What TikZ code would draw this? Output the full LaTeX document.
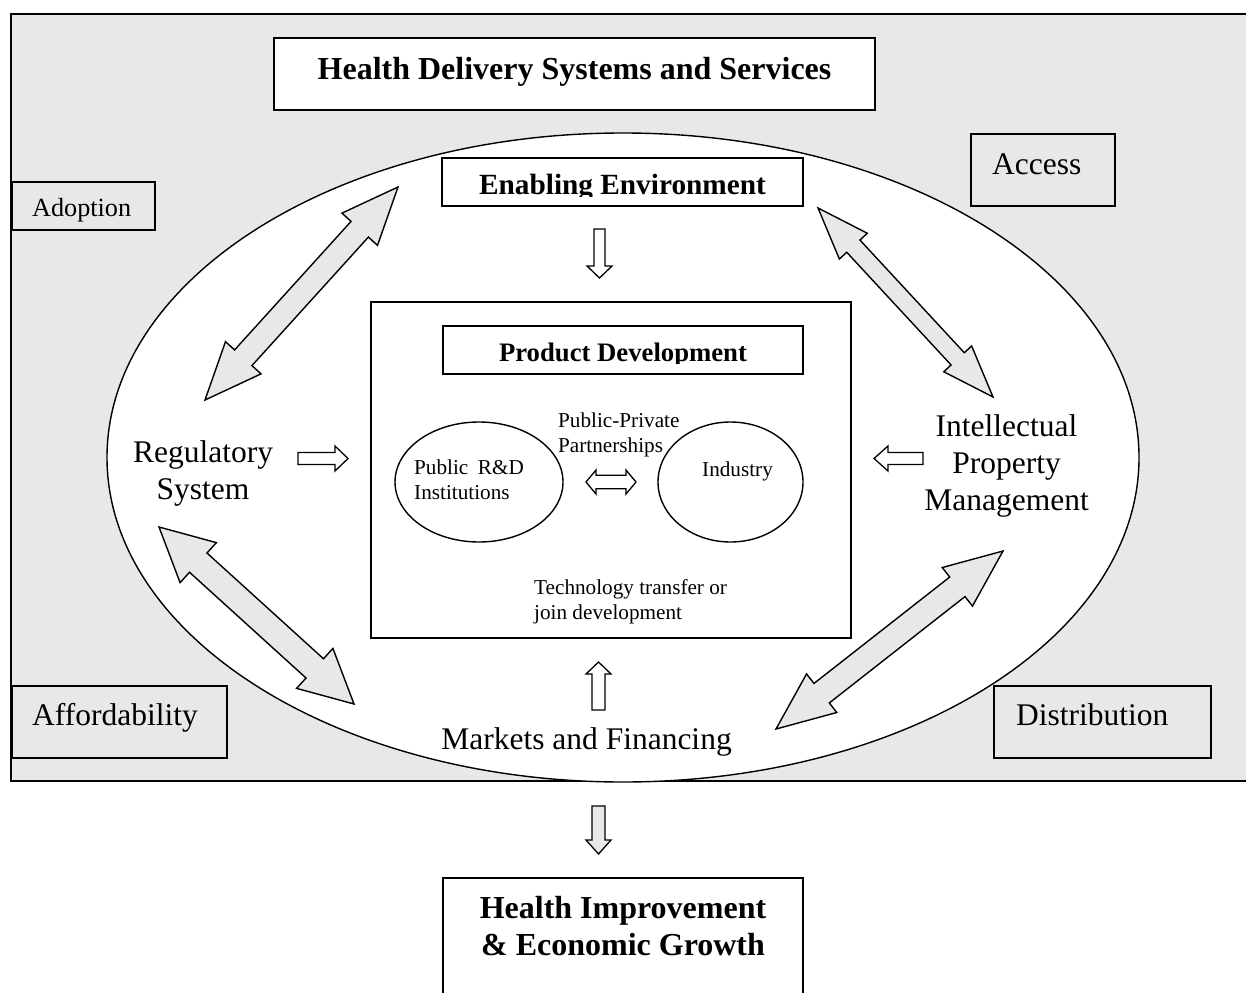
\documentclass[tikz,border=0pt]{standalone}
\usepackage{fontspec}
\setmainfont{Liberation Serif}
\usetikzlibrary{calc}
\definecolor{panelgray}{RGB}{232,232,232}

\tikzset{
  frame/.style={draw=black, line width=2pt},
  label box/.style={frame, fill=panelgray, inner sep=0pt},
  title box/.style={frame, fill=white, inner sep=0pt},
  ring/.style={draw=black, line width=1.4pt, fill=white},
  bigarrow/.style={draw=black, line width=1.4pt, fill=panelgray, line join=miter},
  hollowarrow/.style={draw=black, line width=1.3pt, fill=white, line join=miter},
  grayarrow/.style={draw=black, line width=1.3pt, fill=panelgray, line join=miter},
  bigtext/.style={font=\fontsize{31.5}{37}\selectfont, inner sep=0pt, align=center},
  tagtext/.style={font=\fontsize{31.5}{37}\selectfont, inner sep=0pt},
  smalltext/.style={font=\fontsize{21.2}{24.6}\selectfont, inner sep=0pt, align=left},
}

% angle and length of the segment between two named coordinates
\newcommand\arrowframe[2]{%
  \path let \p1=($(#2)-(#1)$) in
    \pgfextra{\pgfmathsetmacro\arang{atan2(\y1,\x1)}%
              \pgfmathsetmacro\arlen{veclen(\x1,\y1)}%
              \global\let\arang\arang\global\let\arlen\arlen};%
}
% block arrow with heads at both ends:
% style, from, to, shaft half-width, head half-width, head length
\newcommand\twowayarrow[6]{%
  \arrowframe{#2}{#3}%
  \begin{scope}[shift={(#2)}, rotate=\arang]
    \draw[#1] (0,0) -- (#6,#5) -- (#6,#4) -- (\arlen-#6,#4) -- (\arlen-#6,#5)
      -- (\arlen,0) -- (\arlen-#6,-#5) -- (\arlen-#6,-#4) -- (#6,-#4) -- (#6,-#5) -- cycle;
  \end{scope}%
}
% block arrow with one head at the "to" end
\newcommand\onewayarrow[6]{%
  \arrowframe{#2}{#3}%
  \begin{scope}[shift={(#2)}, rotate=\arang]
    \draw[#1] (0,#4) -- (\arlen-#6,#4) -- (\arlen-#6,#5) -- (\arlen,0)
      -- (\arlen-#6,-#5) -- (\arlen-#6,-#4) -- (0,-#4) -- cycle;
  \end{scope}%
}

\begin{document}
\begin{tikzpicture}[x=1pt, y=-1pt]
  \useasboundingbox (0,0) rectangle (1246,992);

  % grey panel of the delivery system
  \draw[frame, fill=panelgray] (11,14) rectangle (1280,781);

  % outer ring
  \node (ring) at (623,457.5) {};
  \draw[ring] (ring.center) ellipse [x radius=516, y radius=324.5];

  % title of the panel
  \node[title box, minimum width=601pt, minimum height=72pt] (hds) at (574.5,74) {};
  \node[font=\bfseries\fontsize{32}{37}\selectfont, inner sep=0pt, anchor=base] (hdstext) at (574.5,80)
    {Health Delivery Systems and Services};

  % corner tags
  \node[label box, minimum width=143pt, minimum height=48pt] (adopt) at (83.5,206) {};
  \node[font=\fontsize{26.2}{30}\selectfont, inner sep=0pt, anchor=base west] (adopttext) at (32,217) {Adoption};
  \node[label box, minimum width=144pt, minimum height=72pt] (access) at (1043,170) {};
  \node[tagtext, anchor=base west] (accesstext) at (992,175) {Access};
  \node[label box, minimum width=215pt, minimum height=72pt] (afford) at (119.5,722) {};
  \node[tagtext, anchor=base west] (affordtext) at (32,725) {Affordability};
  \node[label box, minimum width=217pt, minimum height=72pt] (distr) at (1102.5,722) {};
  \node[tagtext, anchor=base west] (distrtext) at (1016,725) {Distribution};

  % enabling environment
  \node[title box, minimum width=361pt, minimum height=48pt] (enable) at (622.5,182) {};
  \begin{scope}
    \clip (442,158) rectangle (803,196.5);
    \node[font=\bfseries\fontsize{29.3}{34}\selectfont, inner sep=0pt, anchor=base] (enabletext) at (622.5,195)
      {Enabling Environment};
  \end{scope}

  % product development block
  \node[title box, minimum width=480pt, minimum height=336pt] (pd) at (611,470) {};
  \node[title box, minimum width=360pt, minimum height=48pt] (pdtitle) at (623,350) {};
  \begin{scope}
    \clip (443,326) rectangle (803,363);
    \node[font=\bfseries\fontsize{26.7}{31}\selectfont, inner sep=0pt, anchor=base] (pdtitletext) at (623,361.7)
      {Product Development};
  \end{scope}
  \node (rdc) at (479,482) {};
  \draw[ring] (rdc.center) ellipse [x radius=84, y radius=60];
  \node (indc) at (730.5,482) {};
  \draw[ring] (indc.center) ellipse [x radius=72.5, y radius=60];
  % multi-line labels are anchored at the baseline of their last line
  \node[smalltext, anchor=base west] (rd) at (414,499) {Public\hspace{0.45em}R\&D\\Institutions};
  \node[smalltext, anchor=base west] (ppp) at (558,452) {Public-Private\\Partnerships};
  \node[smalltext, anchor=base west] (ind) at (702,476) {Industry};
  \node[smalltext, anchor=base west] (tt) at (534,619) {Technology transfer or\\join development};

  % surrounding factors
  \node[bigtext, anchor=base] (reg) at (203,499) {Regulatory\\System};
  \node[bigtext, anchor=base] (ipm) at (1006.5,510) {Intellectual\\Property\\Management};
  \node[tagtext, anchor=base] (mkt) at (586.5,749) {Markets and Financing};

  % outcome
  \node[title box, minimum width=360pt, minimum height=132pt] (outcome) at (623,944) {};
  \node[font=\bfseries\fontsize{32}{37}\selectfont, inner sep=0pt, align=center, anchor=base] (outtext) at (623,955)
    {Health Improvement\\\& Economic Growth};

  % end points of the block arrows
  \coordinate (a1s) at (205,400);   \coordinate (a1e) at (398,187);
  \coordinate (a2s) at (818,208);   \coordinate (a2e) at (993,397);
  \coordinate (a3s) at (159,527);   \coordinate (a3e) at (354,704);
  \coordinate (a4s) at (776,729);   \coordinate (a4e) at (1003,551);
  \coordinate (enS) at (599.5,229); \coordinate (enE) at (599.5,278);
  \coordinate (rgS) at (298,458.5); \coordinate (rgE) at (348,458.5);
  \coordinate (ipS) at (923,458.5); \coordinate (ipE) at (874,458.5);
  \coordinate (mkS) at (598.5,710); \coordinate (mkE) at (598.5,662);
  \coordinate (ppS) at (586,482);   \coordinate (ppE) at (636,482);
  \coordinate (otS) at (598.5,806); \coordinate (otE) at (598.5,854);

  \twowayarrow{bigarrow}{a1s}{a1e}{11.7}{24}{57}
  \twowayarrow{bigarrow}{a2s}{a2e}{9}{19}{52}
  \twowayarrow{bigarrow}{a3s}{a3e}{13}{27}{53}
  \twowayarrow{bigarrow}{a4s}{a4e}{12.4}{24.5}{58}

  \onewayarrow{hollowarrow}{enS}{enE}{5.5}{12.5}{12}
  \onewayarrow{hollowarrow}{rgS}{rgE}{6}{12.5}{13}
  \onewayarrow{hollowarrow}{ipS}{ipE}{6}{12.5}{14}
  \onewayarrow{hollowarrow}{mkS}{mkE}{6.5}{12.5}{12}
  \twowayarrow{hollowarrow}{ppS}{ppE}{6.7}{12}{10}
  \onewayarrow{grayarrow}{otS}{otE}{6.5}{12.5}{14}
\end{tikzpicture}
\end{document}
